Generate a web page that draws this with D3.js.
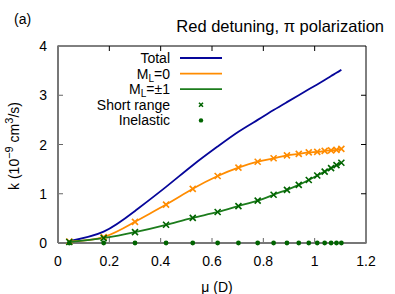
<!DOCTYPE html>
<html>
<head>
<meta charset="utf-8">
<script src="https://cdn.jsdelivr.net/npm/d3@7"></script>
<style>
  body { margin: 0; background: #fff; }
  text { font-family: "Liberation Sans", Arial, sans-serif; fill: #000; }
</style>
</head>
<body>
<div id="chart"></div>
<script>
// dipole moment values (D)
const mu = [0.044, 0.178, 0.300, 0.421, 0.525, 0.622, 0.703, 0.778, 0.840,
  0.892, 0.938, 0.977, 1.010, 1.039, 1.064, 1.085, 1.104];
// rate coefficients, 10^-9 cm^3/s
const total = [0.04, 0.23, 0.65, 1.14, 1.58, 1.96, 2.26, 2.50, 2.70,
  2.86, 3.00, 3.12, 3.22, 3.31, 3.39, 3.455, 3.52];
const ml0 = [0.03, 0.12, 0.43, 0.78, 1.10, 1.36, 1.53, 1.65, 1.72,
  1.78, 1.81, 1.84, 1.85, 1.87, 1.88, 1.89, 1.91];
const ml1 = [0.02, 0.10, 0.22, 0.37, 0.51, 0.63, 0.75, 0.86, 0.98,
  1.08, 1.18, 1.28, 1.37, 1.45, 1.52, 1.58, 1.63];
const inelastic = [0, 0, 0, 0, 0, 0, 0, 0, 0, 0, 0, 0, 0, 0, 0, 0, 0];

const xTicks = [0, 0.2, 0.4, 0.6, 0.8, 1, 1.2];
const yTicks = [0, 1, 2, 3, 4];

const width = 395, height = 294;
const margin = { top: 46, right: 29, bottom: 51, left: 58 };

const blue = '#06069a', orange = '#ff8c00', green = '#1c7c1c', dark = '#006400';

const svg = d3.select('#chart')
  .append('svg')
  .attr('width', width)
  .attr('height', height);

const x = d3.scaleLinear().domain([0, 1.2]).range([margin.left, width - margin.right]);
const y = d3.scaleLinear().domain([0, 4]).range([height - margin.bottom, margin.top]);

// frame: top/right black, bottom/left grey
const x0 = x(0), x1 = x(1.2), y0 = y(0), y1 = y(4);
svg.append('line').attr('x1', x0).attr('x2', x1).attr('y1', y1).attr('y2', y1)
  .attr('stroke', '#000').attr('stroke-width', 1);
svg.append('line').attr('x1', x1).attr('x2', x1).attr('y1', y1).attr('y2', y0)
  .attr('stroke', '#000').attr('stroke-width', 1);

// inward ticks
const tl = 5;
xTicks.slice(1, -1).forEach(t => {
  svg.append('line').attr('x1', x(t)).attr('x2', x(t)).attr('y1', y0).attr('y2', y0 - tl)
    .attr('stroke', '#666');
  svg.append('line').attr('x1', x(t)).attr('x2', x(t)).attr('y1', y1).attr('y2', y1 + tl)
    .attr('stroke', '#000');
});
yTicks.slice(1, -1).forEach(t => {
  svg.append('line').attr('x1', x0).attr('x2', x0 + tl).attr('y1', y(t)).attr('y2', y(t))
    .attr('stroke', '#666');
  svg.append('line').attr('x1', x1).attr('x2', x1 - tl).attr('y1', y(t)).attr('y2', y(t))
    .attr('stroke', '#000');
});
svg.append('line').attr('x1', x0).attr('x2', x1 + 0.5).attr('y1', y0).attr('y2', y0)
  .attr('stroke', '#777').attr('stroke-width', 2);
svg.append('line').attr('x1', x0).attr('x2', x0).attr('y1', y1 - 0.5).attr('y2', y0)
  .attr('stroke', '#777').attr('stroke-width', 2);

// tick labels
svg.selectAll('.xt')
  .data(xTicks)
  .enter()
  .append('text')
  .attr('x', d => x(d))
  .attr('y', y0 + 23)
  .attr('text-anchor', 'middle')
  .style('font-size', '14px')
  .text(d => d);

svg.selectAll('.yt')
  .data(yTicks)
  .enter()
  .append('text')
  .attr('x', x0 - 11)
  .attr('y', d => y(d) + 5)
  .attr('text-anchor', 'end')
  .style('font-size', '14px')
  .text(d => d);

// axis titles
svg.append('text')
  .attr('x', 217)
  .attr('y', 292)
  .attr('text-anchor', 'middle')
  .style('font-size', '14px')
  .text('μ (D)');

const yl = svg.append('text')
  .attr('transform', 'translate(19,146) rotate(-90)')
  .attr('text-anchor', 'middle')
  .style('font-size', '14px');
yl.append('tspan').text('k (10');
yl.append('tspan').attr('dy', -6).style('font-size', '11px').text('−9');
yl.append('tspan').attr('dy', 6).text(' cm');
yl.append('tspan').attr('dy', -6).style('font-size', '11px').text('3');
yl.append('tspan').attr('dy', 6).text('/s)');

svg.append('text')
  .attr('x', 14)
  .attr('y', 24)
  .style('font-size', '14px')
  .text('(a)');

svg.append('text')
  .attr('x', 384)
  .attr('y', 32)
  .attr('text-anchor', 'end')
  .style('font-size', '16.5px')
  .text('Red detuning, π polarization');

// curves
const line = vals => d3.line()
  .x((d, i) => x(mu[i]))
  .y(d => y(d))
  .curve(d3.curveNatural)(vals);

[[total, blue], [ml0, orange], [ml1, green]].forEach(([vals, c]) => {
  svg.append('path')
    .attr('d', line(vals))
    .attr('fill', 'none')
    .attr('stroke', c)
    .attr('stroke-width', 1.8);
});

// short range crosses
const cross = (g, cx, cy, s, c) => {
  g.append('path')
    .attr('d', `M${cx - s},${cy - s}L${cx + s},${cy + s}M${cx - s},${cy + s}L${cx + s},${cy - s}`)
    .attr('stroke', c)
    .attr('stroke-width', 1.6)
    .attr('fill', 'none');
};
ml0.forEach((d, i) => cross(svg, x(mu[i]), y(d), 3, orange));
ml1.forEach((d, i) => cross(svg, x(mu[i]), y(d), 3, dark));

// inelastic dots
svg.selectAll('.inel')
  .data(inelastic)
  .enter()
  .append('circle')
  .attr('cx', (d, i) => x(mu[i]))
  .attr('cy', d => y(d))
  .attr('r', 2.4)
  .attr('fill', dark);

// legend
const legendRows = [
  { label: 'Total', type: 'line', color: blue },
  { label: 'M', sub: 'L', rest: '=0', type: 'line', color: orange },
  { label: 'M', sub: 'L', rest: '=±1', type: 'line', color: green },
  { label: 'Short range', type: 'cross', color: dark },
  { label: 'Inelastic', type: 'dot', color: dark }
];
const legend = svg.append('g');
legendRows.forEach((r, i) => {
  const ly = 58 + i * 15.6;
  const t = legend.append('text')
    .attr('x', 170)
    .attr('y', ly + 5)
    .attr('text-anchor', 'end')
    .style('font-size', '14px');
  t.append('tspan').text(r.label);
  if (r.sub) {
    t.append('tspan').attr('dy', 3).style('font-size', '10px').text(r.sub);
    t.append('tspan').attr('dy', -3).text(r.rest);
  }
  if (r.type === 'line') {
    legend.append('line')
      .attr('x1', 180).attr('x2', 222)
      .attr('y1', ly).attr('y2', ly)
      .attr('stroke', r.color)
      .attr('stroke-width', 1.8);
  } else if (r.type === 'cross') {
    cross(legend, 201, ly, 2, r.color);
  } else {
    legend.append('circle').attr('cx', 201).attr('cy', ly).attr('r', 2.2).attr('fill', r.color);
  }
});
</script>
</body>
</html>
